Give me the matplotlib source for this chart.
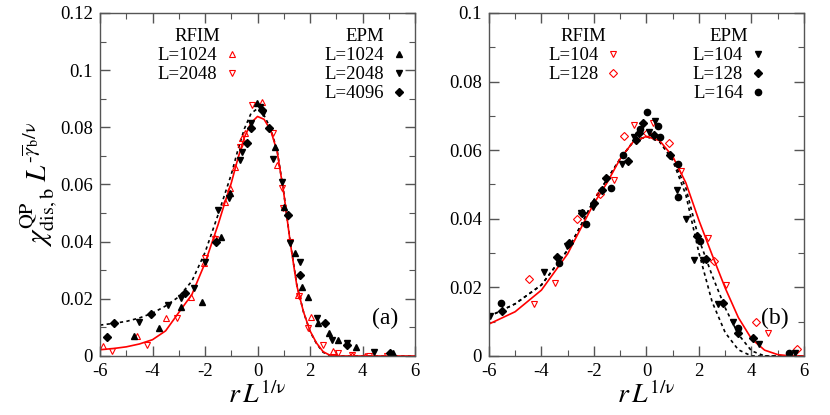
import matplotlib
matplotlib.use('Agg')
import matplotlib.pyplot as plt
from matplotlib.ticker import MultipleLocator, FormatStrFormatter
from matplotlib.lines import Line2D

plt.rcParams['font.family'] = ['Liberation Serif', 'DejaVu Serif']
plt.rcParams['mathtext.fontset'] = 'stix'
plt.rcParams['axes.unicode_minus'] = False

RED = '#ff0000'

# ---------------- panel (a) ----------------
a_rfim1024_x = [-5.87, -4.6, -3.5, -2.53, -2.03, -1.62, -1.24, -1.05, -0.86, -0.6, -0.48, 0.16, 0.73, 1.56, 2.03, 2.89, 3.59, 4.1]
a_rfim1024_y = [0.0035, 0.007, 0.0134, 0.0205, 0.0324, 0.0412, 0.0538, 0.0587, 0.0662, 0.0761, 0.0779, 0.089, 0.0668, 0.0213, 0.0138, 0.0017, 0.0003, 0.0]
a_rfim2048_x = [-5.53, -4.22, -3.05, -1.99, -1.62, -0.67, -0.22, 0.58, 0.92, 0.98, 1.22, 1.58, 1.94, 2.51, 3.08, 3.6, 4.23, 4.92]
a_rfim2048_y = [0.0017, 0.0038, 0.0134, 0.0344, 0.041, 0.0732, 0.0878, 0.0779, 0.0587, 0.0516, 0.040, 0.021, 0.0097, 0.0038, 0.0012, 0.0002, 0.0, 0.0]
a_epm1024_x = [-4.69, -3.75, -2.91, -2.13, -1.4, -1.05, -0.03, 0.67, 1.01, 1.43, 1.68, 1.91, 2.32, 2.74, 3.08, 3.75, 5.17]
a_epm1024_y = [0.0071, 0.0099, 0.017, 0.019, 0.0418, 0.0571, 0.0884, 0.073, 0.0522, 0.0359, 0.0243, 0.0207, 0.0114, 0.0079, 0.0056, 0.003, 0.0012]
a_epm2048_x = [-4.53, -3.42, -2.93, -2.42, -1.99, -1.5, -1.07, -0.67, -0.6, -0.26, 0.1, 0.2, 0.58, 0.92, 1.24, 1.6, 2.25, 2.83, 3.4, 4.45]
a_epm2048_y = [0.012, 0.0178, 0.0202, 0.0237, 0.033, 0.0511, 0.0552, 0.0686, 0.0715, 0.0814, 0.0872, 0.085, 0.069, 0.061, 0.0394, 0.033, 0.0132, 0.0056, 0.0046, 0.0015]
a_epm4096_x = [-5.75, -5.47, -4.06, -2.76, -1.58, -0.41, -0.25, 0.16, 0.45, 1.17, 1.6, 2.57, 3.4, 5.05]
a_epm4096_y = [0.0066, 0.0117, 0.0147, 0.0219, 0.040, 0.0744, 0.0798, 0.086, 0.0797, 0.0493, 0.0283, 0.0114, 0.0038, 0.001]

# fitted curves
a_fit_x = [-6, -5.5, -5, -4.5, -4, -3.5, -3, -2.5, -2, -1.5, -1.25, -1, -0.75, -0.5, -0.25, 0, 0.25, 0.5, 0.75, 1.0, 1.25, 1.5, 1.75, 2.0, 2.25, 2.5, 2.75, 3.0, 6.0]
a_red_y = [0.0022, 0.0026, 0.0032, 0.0042, 0.0057, 0.0088, 0.0152, 0.0215, 0.0325, 0.046, 0.0535, 0.0605, 0.0690, 0.0765, 0.0815, 0.0838, 0.0828, 0.0790, 0.0715, 0.0570, 0.0395, 0.0245, 0.0155, 0.0088, 0.0045, 0.0015, 0.0003, 0.0, 0.0]
a_dot_y = [0.0108, 0.0114, 0.0121, 0.0133, 0.0150, 0.0175, 0.0207, 0.0262, 0.0362, 0.0495, 0.0565, 0.0635, 0.0720, 0.0795, 0.0848, 0.0866, 0.0842, 0.0795, 0.0718, 0.0572, 0.0398, 0.0248, 0.0155, 0.0086, 0.0043, 0.0013, 0.0002, 0.0, 0.0]

# ---------------- panel (b) ----------------
b_rfim104_x = [-4.29, -3.5, -1.24, -0.48, 0.24, 1.31, 2.33, 3.03, 4.64]
b_rfim104_y = [0.0152, 0.0212, 0.0513, 0.0673, 0.0678, 0.0539, 0.0343, 0.0207, 0.0066]
b_rfim128_x = [-4.48, -2.63, -1.75, -0.86, 0.02, 0.87, 2.57, 4.17, 5.72]
b_rfim128_y = [0.0225, 0.040, 0.0471, 0.0641, 0.065, 0.0622, 0.0277, 0.010, 0.002]
b_epm104_x = [-5.96, -3.9, -3.02, -2.51, -2.03, -0.94, -0.48, 0.11, 0.32, 1.17, 1.5, 1.82, 2.14, 2.74, 3.28, 4.3, 5.66]
b_epm104_y = [0.0117, 0.0246, 0.032, 0.0416, 0.0435, 0.056, 0.0637, 0.0654, 0.0686, 0.0484, 0.040, 0.028, 0.028, 0.0152, 0.010, 0.0035, 0.0008]
b_epm128_x = [-5.49, -3.4, -2.95, -2.44, -2.0, -1.7, -1.55, -0.69, -0.4, -0.27, -0.14, 0.27, 0.9, 1.91, 2.25, 2.9, 3.5, 4.07]
b_epm128_y = [0.0131, 0.029, 0.033, 0.0418, 0.0445, 0.0484, 0.052, 0.0569, 0.063, 0.0651, 0.0678, 0.0645, 0.0586, 0.0351, 0.0284, 0.0154, 0.0066, 0.0052]
b_epm164_x = [-5.53, -3.33, -2.32, -1.35, -0.88, -0.25, 0.01, 0.45, 0.51, 1.19, 1.22, 2.04, 3.5, 5.43]
b_epm164_y = [0.0155, 0.027, 0.0385, 0.0489, 0.0586, 0.0663, 0.071, 0.0671, 0.0639, 0.056, 0.0463, 0.0336, 0.0081, 0.001]

b_fit_x = [-6, -5, -4, -3, -2.5, -2, -1.5, -1, -0.5, 0, 0.5, 1.0, 1.5, 2.0, 2.5, 3.0, 3.5, 4.0, 4.5, 5.0, 5.5, 6.0]
b_red_y = [0.0093, 0.0129, 0.0192, 0.0298, 0.0372, 0.0445, 0.0505, 0.0575, 0.0625, 0.0640, 0.0628, 0.0582, 0.0505, 0.0395, 0.0295, 0.0198, 0.0112, 0.0050, 0.0017, 0.0004, 0.0, 0.0]
b_dot1_y = [0.0115, 0.0152, 0.0207, 0.0309, 0.0380, 0.0455, 0.0515, 0.0575, 0.0625, 0.0640, 0.0625, 0.0570, 0.0470, 0.0300, 0.0158, 0.0068, 0.0018, 0.0, 0.0, 0.0, 0.0, 0.0]
b_dot2_y = [0.0115, 0.0152, 0.0207, 0.0309, 0.0380, 0.0455, 0.0515, 0.0575, 0.0625, 0.0640, 0.0625, 0.0575, 0.0490, 0.0340, 0.0235, 0.0140, 0.0063, 0.0015, 0.0, 0.0, 0.0, 0.0]

fig = plt.figure(figsize=(8.3, 4.15), dpi=100)
ax_a = fig.add_axes([0.1205, 0.1422, 0.3795, 0.8265])
ax_b = fig.add_axes([0.589, 0.1422, 0.3797, 0.8265])

ms = 4.5
red_kw = dict(linestyle='none', markerfacecolor='none', markeredgecolor=RED, markeredgewidth=0.8, markersize=ms)
blk_kw = dict(linestyle='none', color='black', markersize=ms)


def style_axes(ax, ymax):
    ax.set_xlim(-6, 6)
    ax.set_ylim(0, ymax)
    ax.xaxis.set_major_locator(MultipleLocator(2))
    ax.xaxis.set_minor_locator(MultipleLocator(1))
    ax.yaxis.set_major_locator(MultipleLocator(0.02))
    ax.yaxis.set_minor_locator(MultipleLocator(0.01))
    ax.xaxis.set_major_formatter(FormatStrFormatter('%g'))
    ax.yaxis.set_major_formatter(FormatStrFormatter('%g'))
    ax.tick_params(which='both', direction='in', top=True, right=True, color='#555555', labelsize=13.5)
    ax.tick_params(which='major', length=7, width=1.0, pad=5)
    ax.tick_params(which='minor', length=4, width=0.8)
    for s in ax.spines.values():
        s.set_color('#555555')
        s.set_linewidth(1.0)
    ax.set_xlabel(r'$r\,L^{1/\mathrm{\nu}}$', fontsize=20, labelpad=1)


# panel (a)
ax_a.plot(a_fit_x, a_dot_y, color='black', linestyle=(0, (2, 2)), linewidth=1.2)
ax_a.plot(a_fit_x, a_red_y, color=RED, linewidth=1.2)
ax_a.plot(a_rfim1024_x, a_rfim1024_y, marker='^', **red_kw)
ax_a.plot(a_rfim2048_x, a_rfim2048_y, marker='v', **red_kw)
ax_a.plot(a_epm1024_x, a_epm1024_y, marker='^', **blk_kw)
ax_a.plot(a_epm2048_x, a_epm2048_y, marker='v', **blk_kw)
ax_a.plot(a_epm4096_x, a_epm4096_y, marker='D', **dict(blk_kw, markersize=3.8))
style_axes(ax_a, 0.12)
ax_a.set_ylabel(r'$\chi^{\mathrm{QP}}_{\mathrm{dis,b}}\;L^{\text{-}\overline{\gamma}_{\mathrm{b}}/\mathrm{\nu}}$',
                fontsize=21, labelpad=0)
ax_a.text(0.905, 0.11, '(a)', transform=ax_a.transAxes, fontsize=17, ha='center', va='center')

# panel (b)
ax_b.plot(b_fit_x, b_dot1_y, color='black', linestyle=(0, (2, 2)), linewidth=1.2)
ax_b.plot(b_fit_x, b_dot2_y, color='black', linestyle=(0, (2, 2)), linewidth=1.2)
ax_b.plot(b_fit_x, b_red_y, color=RED, linewidth=1.2)
ax_b.plot(b_rfim104_x, b_rfim104_y, marker='v', **red_kw)
ax_b.plot(b_rfim128_x, b_rfim128_y, marker='D', **dict(red_kw, markersize=3.8))
ax_b.plot(b_epm104_x, b_epm104_y, marker='v', **blk_kw)
ax_b.plot(b_epm128_x, b_epm128_y, marker='D', **dict(blk_kw, markersize=3.8))
ax_b.plot(b_epm164_x, b_epm164_y, marker='o', **blk_kw)
style_axes(ax_b, 0.1)
ax_b.text(0.908, 0.11, '(b)', transform=ax_b.transAxes, fontsize=17, ha='center', va='center')


def add_legend(ax, labels, markers, red, anchor):
    handles = []
    for m in markers:
        kw = red_kw if red else blk_kw
        h = Line2D([], [], marker=m, **kw)
        if m == 'D':
            h.set_markersize(3.8)
        handles.append(h)
    title = 'RFIM' if red else 'EPM'
    leg = ax.legend(handles, labels, title=title, loc='upper center', bbox_to_anchor=anchor,
                    markerfirst=False, frameon=False, fontsize=13.5, title_fontsize=13.5,
                    handlelength=0.6, handletextpad=0.5, labelspacing=0.1,
                    borderpad=0, borderaxespad=0)
    ax.add_artist(leg)


add_legend(ax_a, ['L=1024', 'L=2048'], ['^', 'v'], True, (0.31, 0.955))
add_legend(ax_a, ['L=1024', 'L=2048', 'L=4096'], ['^', 'v', 'D'], False, (0.84, 0.955))
add_legend(ax_b, ['L=104', 'L=128'], ['v', 'D'], True, (0.30, 0.955))
add_legend(ax_b, ['L=104', 'L=128', 'L=164'], ['v', 'D', 'o'], False, (0.76, 0.955))
# the legends are kept as plain artists, so drop the one ax.legend left behind
ax_a.legend_ = None
ax_b.legend_ = None

fig.savefig('out.png', dpi=100)
